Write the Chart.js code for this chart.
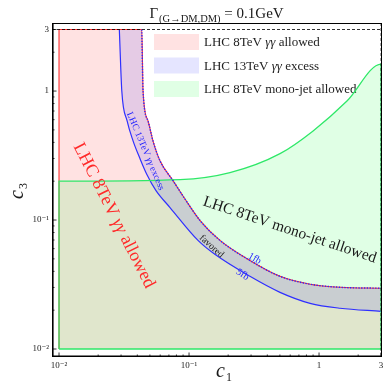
<!DOCTYPE html>
<html>
<head>
<meta charset="utf-8">
<script src="https://cdn.jsdelivr.net/npm/chart.js@4.4.0/dist/chart.umd.min.js"></script>
<style>
  html, body { margin: 0; padding: 0; background: #fff; }
</style>
</head>
<body>
<canvas id="c3c1" width="384" height="382"></canvas>
<script>
// --- plot range and ticks ---
const C_MIN = 0.01, C_MAX = 3;
const X_TICKS = [0.01, 0.1, 1, 3];
const X_TICK_TEXT = ['10⁻²', '10⁻¹', '1', '3'];
const Y_TICKS = [0.01, 0.1, 1, 3];
const Y_TICK_TEXT = ['10⁻²', '10⁻¹', '1', '3'];
const MINOR_TICKS = [0.02, 0.03, 0.04, 0.05, 0.06, 0.07, 0.08, 0.09,
                     0.2, 0.3, 0.4, 0.5, 0.6, 0.7, 0.8, 0.9, 2];

// --- 13TeV diphoton cross section contours (1 fb / 5 fb) ---
const c1_1fb = [0.0433, 0.0443, 0.0484, 0.0528, 0.0598, 0.0753, 0.0948, 0.1216, 0.173, 0.294, 0.501, 0.853, 1.45, 3];
const c3_1fb = [3, 1.0, 0.586, 0.411, 0.288, 0.202, 0.1416, 0.0991, 0.0695, 0.0486, 0.0366, 0.0318, 0.0301, 0.0296];
const c1_5fb = [0.0291, 0.0304, 0.0334, 0.0371, 0.0420, 0.0475, 0.0557, 0.0714, 0.1172, 0.158, 0.294, 0.501, 0.853, 1.45, 3];
const c3_5fb = [3, 1.0, 0.586, 0.411, 0.2985, 0.2244, 0.169, 0.125, 0.0695, 0.0542, 0.0366, 0.0275, 0.0226, 0.0207, 0.0196];

// --- 8TeV mono-jet bound ---
const c1_mono = [0.01, 0.0853, 0.2065, 0.501, 0.90, 1.64, 3];
const c3_mono = [0.2, 0.2056, 0.233, 0.327, 0.491, 0.837, 1.62];

const LEGEND_TEXT = [
  ['LHC 8TeV ', ['γγ'], ' allowed'],
  ['LHC 13TeV ', ['γγ'], ' excess'],
  ['LHC 8TeV mono-jet allowed']
];

const RED_FILL = 'rgba(255, 0, 0, 0.115)';
const BLUE_FILL = 'rgba(0, 0, 255, 0.1)';
const GREEN_FILL = 'rgba(0, 255, 40, 0.12)';
const SERIF = '"Liberation Serif", "DejaVu Serif", serif';

const pts = (xs, ys) => xs.map((x, i) => ({ x, y: ys[i] }));
const corner = (x, y) => ({ x, y });

const redOutline = [corner(C_MIN, C_MIN), corner(C_MIN, C_MAX), ...pts(c1_1fb, c3_1fb)];
const monoOutline = [corner(C_MIN, C_MIN), ...pts(c1_mono, c3_mono), corner(C_MAX, C_MIN)];
const bandLower = pts(c1_5fb, c3_5fb);
const bandUpper = [corner(c1_5fb[0], C_MAX), ...pts(c1_1fb, c3_1fb)];

const lineBase = { showLine: true, pointRadius: 0, cubicInterpolationMode: 'monotone', fill: false };

// text drawn in pieces so the photon symbols can be italic
function richText(ctx, parts, x, y, deg, size, color, align) {
  ctx.save();
  ctx.translate(x, y);
  ctx.rotate(deg * Math.PI / 180);
  ctx.fillStyle = color;
  ctx.textBaseline = 'alphabetic';
  ctx.textAlign = 'left';
  const texts = parts.map(p => Array.isArray(p) ? p[0] : p);
  const fonts = parts.map(p => (Array.isArray(p) ? 'italic ' : '') + size + 'px ' + SERIF);
  let w = 0;
  const ws = texts.map((t, i) => { ctx.font = fonts[i]; const m = ctx.measureText(t).width; w += m; return m; });
  let cx = align === 'left' ? 0 : -w / 2;
  const dy = align === 'left' ? 0 : size * 0.33;
  texts.forEach((t, i) => { ctx.font = fonts[i]; ctx.fillText(t, cx, dy); cx += ws[i]; });
  ctx.restore();
}

function seg(ctx, x0, y0, x1, y1) {
  ctx.beginPath(); ctx.moveTo(x0, y0); ctx.lineTo(x1, y1); ctx.stroke();
}

const decor = {
  id: 'decor',
  beforeDatasetsDraw(chart) {
    const ctx = chart.ctx;
    // legend
    const fills = [RED_FILL, BLUE_FILL, GREEN_FILL];
    LEGEND_TEXT.forEach((parts, i) => {
      const top = 34 + i * 23.5;
      ctx.fillStyle = fills[i];
      ctx.fillRect(154, top, 45, 16);
      richText(ctx, parts, 204, top + 12, 0, 13, '#222', 'left');
    });
  },
  afterDatasetsDraw(chart) {
    const ctx = chart.ctx, xs = chart.scales.x, ys = chart.scales.y;
    // dashed lines along the upper plot range
    ctx.save();
    ctx.strokeStyle = '#000'; ctx.lineWidth = 0.8; ctx.setLineDash([3, 2]);
    const yTop = ys.getPixelForValue(C_MAX), xRight = xs.getPixelForValue(C_MAX);
    seg(ctx, chart.chartArea.left, yTop, chart.chartArea.right, yTop);
    seg(ctx, xRight, chart.chartArea.top, xRight, chart.chartArea.bottom);
    ctx.restore();

    richText(ctx, ['LHC 8TeV ', ['γγ'], ' allowed'], 115, 215, 63, 18, '#ff2a2a');
    richText(ctx, ['LHC 8TeV mono-jet allowed'], 290, 229, 18.5, 15.5, '#1a1a1a');
    richText(ctx, ['LHC 13TeV ', ['γγ'], ' excess'], 146, 151, 67, 9.5, '#2424ff');
    richText(ctx, ['favored'], 212, 246, 42, 9.5, '#1a1a1a');
    richText(ctx, ['1fb'], 255, 258, 30, 10, '#2424ff');
    richText(ctx, ['5fb'], 243, 274, 33, 10, '#2424ff');
  },
  afterDraw(chart) {
    const ctx = chart.ctx, a = chart.chartArea, xs = chart.scales.x, ys = chart.scales.y;
    ctx.save();
    ctx.strokeStyle = '#000';
    // frame
    ctx.lineWidth = 1;
    seg(ctx, a.left, a.top + 0.5, a.right, a.top + 0.5);
    seg(ctx, a.right - 0.5, a.top, a.right - 0.5, a.bottom);
    ctx.lineWidth = 1.6;
    seg(ctx, a.left + 0.8, a.top, a.left + 0.8, a.bottom);
    seg(ctx, a.left, a.bottom - 0.8, a.right, a.bottom - 0.8);
    // inward ticks
    ctx.lineWidth = 0.8;
    X_TICKS.concat(MINOR_TICKS).forEach(v => {
      const len = MINOR_TICKS.includes(v) ? 2.5 : 4.5;
      const px = xs.getPixelForValue(v);
      seg(ctx, px, a.bottom, px, a.bottom - len);
    });
    Y_TICKS.concat(MINOR_TICKS).forEach(v => {
      const len = MINOR_TICKS.includes(v) ? 2.5 : 4.5;
      const py = ys.getPixelForValue(v);
      seg(ctx, a.left, py, a.left + len, py);
    });
    ctx.restore();

    // title: Gamma_(G->DM,DM) = 0.1GeV
    ctx.save();
    ctx.fillStyle = '#1a1a1a';
    ctx.textBaseline = 'alphabetic';
    const big = '15px ' + SERIF, small = '10.5px ' + SERIF;
    ctx.font = big; const wG = ctx.measureText('Γ').width; const wR = ctx.measureText(' = 0.1GeV').width;
    ctx.font = small; const wS = ctx.measureText('(G→DM,DM)').width;
    let tx = 216 - (wG + wS + wR) / 2;
    ctx.font = big; ctx.fillText('Γ', tx, 18); tx += wG + 1;
    ctx.font = small; ctx.fillText('(G→DM,DM)', tx, 21.5); tx += wS;
    ctx.font = big; ctx.fillText(' = 0.1GeV', tx, 18);

    // axis titles c1, c3
    ctx.font = 'italic 20px ' + SERIF;
    ctx.fillText('c', 216, 377);
    ctx.font = '12px ' + SERIF;
    ctx.fillText('1', 226, 381);
    ctx.translate(23, 199);
    ctx.rotate(-Math.PI / 2);
    ctx.font = 'italic 20px ' + SERIF;
    ctx.fillText('c', 0, 0);
    ctx.font = '12px ' + SERIF;
    ctx.fillText('3', 10, 4);
    ctx.restore();
  }
};

new Chart(document.getElementById('c3c1'), {
  type: 'scatter',
  data: {
    datasets: [
      { ...lineBase, data: redOutline, fill: { value: C_MIN }, backgroundColor: RED_FILL, borderWidth: 0, order: 10 },
      { ...lineBase, data: monoOutline, fill: { value: C_MIN }, backgroundColor: GREEN_FILL, borderWidth: 0, order: 9 },
      { ...lineBase, data: bandLower, fill: 3, backgroundColor: BLUE_FILL, borderColor: '#2f2fff', borderWidth: 1.2, order: 8 },
      { ...lineBase, data: bandUpper, borderWidth: 0, borderColor: 'rgba(0,0,0,0)', order: 7 },
      { ...lineBase, data: redOutline, borderColor: '#ff3030', borderWidth: 1.1, order: 4 },
      { ...lineBase, data: monoOutline, borderColor: '#2ee868', borderWidth: 1.3, order: 3 },
      { ...lineBase, data: [corner(C_MIN, C_MIN), corner(C_MAX, C_MIN)], borderColor: '#2ee868', borderWidth: 1.3, order: 3 },
      { ...lineBase, data: pts(c1_1fb, c3_1fb), borderColor: '#2a2aff', borderWidth: 1.4, borderDash: [1.4, 1.4], order: 1 }
    ]
  },
  options: {
    responsive: false,
    animation: false,
    devicePixelRatio: 1,
    layout: { padding: { top: 23, right: 2, left: 0, bottom: 0 } },
    plugins: { legend: { display: false }, tooltip: { enabled: false } },
    scales: {
      x: {
        type: 'logarithmic', min: 0.00883, max: 3.05, bounds: 'data',
        grid: { display: false, drawTicks: false }, border: { display: false },
        afterBuildTicks: s => { s.ticks = X_TICKS.map(v => ({ value: v })); },
        afterFit: s => { s.height = 25; s.paddingLeft = 0; s.paddingRight = 0; },
        ticks: {
          autoSkip: false, maxRotation: 0, padding: 3, color: '#222',
          font: { family: SERIF, size: 9 },
          callback: (v, i) => X_TICK_TEXT[i]
        }
      },
      y: {
        type: 'logarithmic', min: 0.00867, max: 3.37, bounds: 'data',
        grid: { display: false, drawTicks: false }, border: { display: false },
        afterBuildTicks: s => { s.ticks = Y_TICKS.map(v => ({ value: v })); },
        afterFit: s => { s.width = 52; s.paddingTop = 0; s.paddingBottom = 0; },
        ticks: {
          autoSkip: false, padding: 3, color: '#222',
          font: { family: SERIF, size: 9 },
          callback: (v, i) => Y_TICK_TEXT[i]
        }
      }
    }
  },
  plugins: [decor]
});
</script>
</body>
</html>
